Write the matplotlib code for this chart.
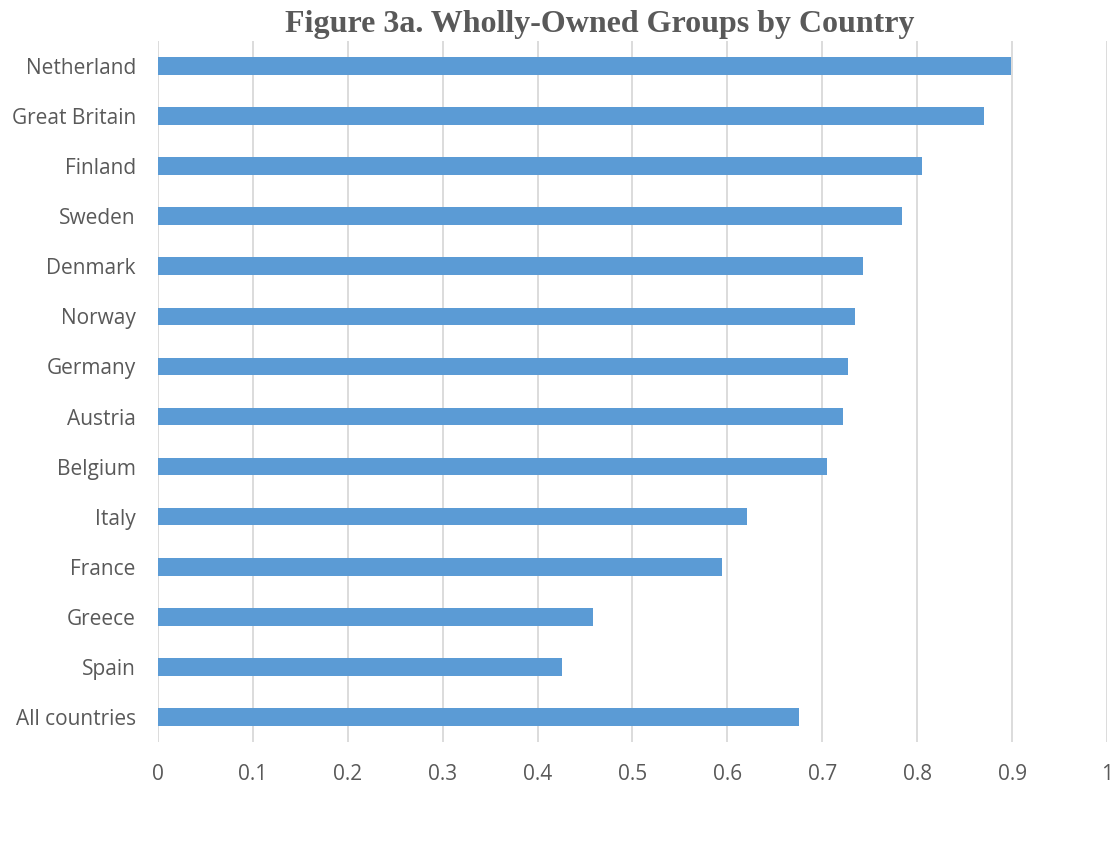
import matplotlib
matplotlib.use('Agg')
import matplotlib.pyplot as plt
import numpy as np

# share of groups that are wholly owned, per country
countries = ['Netherland', 'Great Britain', 'Finland', 'Sweden', 'Denmark',
             'Norway', 'Germany', 'Austria', 'Belgium', 'Italy', 'France',
             'Greece', 'Spain', 'All countries']
shares = [0.899, 0.870, 0.805, 0.784, 0.743, 0.735, 0.727, 0.722, 0.705,
          0.621, 0.594, 0.458, 0.426, 0.675]
xticks = [0, 0.1, 0.2, 0.3, 0.4, 0.5, 0.6, 0.7, 0.8, 0.9, 1]
xticklabels = ['0', '0.1', '0.2', '0.3', '0.4', '0.5', '0.6', '0.7', '0.8', '0.9', '1']

fig = plt.figure(figsize=(11.15, 8.51), dpi=100)
ax = fig.add_axes([0.1417, 0.128, 0.8511, 0.824])

y = np.arange(len(countries))
ax.barh(y, shares, height=0.35, color='#5B9BD5', zorder=3)

ax.set_ylim(len(countries) - 0.5, -0.5)
ax.set_xlim(0, 1)
ax.set_yticks(y)
ax.set_yticklabels(countries, fontsize=15, family='Open Sans', color='#595959')
ax.set_xticks(xticks)
ax.set_xticklabels(xticklabels, fontsize=15, family='Open Sans', color='#595959')
ax.tick_params(length=0)
ax.tick_params(axis='y', pad=16)
ax.tick_params(axis='x', pad=16)

ax.grid(axis='x', color='#D9D9D9', linewidth=1.3, zorder=0)
for s in ax.spines.values():
    s.set_visible(False)

fig.text(0.5375, 0.971, 'Figure 3a. Wholly-Owned Groups by Country',
         ha='center', va='center', fontsize=23, fontweight='bold',
         family='Liberation Serif', color='#595959')

fig.savefig('out.png', dpi=100)
